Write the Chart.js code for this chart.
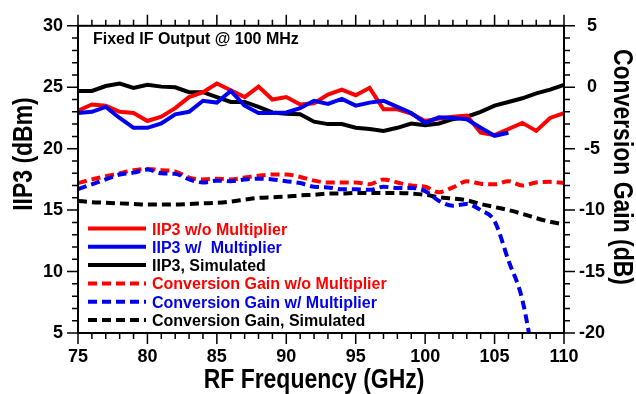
<!DOCTYPE html>
<html>
<head>
<meta charset="utf-8">
<script src="https://cdn.jsdelivr.net/npm/chart.js@4.4.0/dist/chart.umd.min.js"></script>
<style>
  html, body { margin: 0; padding: 0; background: #fff; }
  #box { width: 636px; height: 394px; }
</style>
</head>
<body>
<div id="box"><canvas id="iip3Chart"></canvas></div>
<script>
// RF frequency in GHz
const freq = [75, 76, 77, 78, 79, 80, 81, 82, 83, 84, 85, 86, 87, 88, 89, 90, 91, 92,
  93, 94, 95, 96, 97, 98, 99, 100, 101, 102, 103, 104, 105, 106, 107, 108, 109, 110];

// IIP3 (dBm)
const iip3Wo = [23.1, 23.6, 23.5, 23.0, 22.9, 22.25, 22.6, 23.3, 24.2, 24.6, 25.3, 24.75,
  24.2, 25.05, 24.0, 24.2, 23.6, 23.7, 24.4, 24.8, 24.35, 24.95, 23.2, 23.2, 22.85, 22.25,
  22.45, 22.6, 22.7, 21.3, 21.1, 21.6, 22.1, 21.45, 22.5, 22.9];
const iip3W = [22.9, 23.0, 23.4, 22.5, 21.7, 21.7, 22.05, 22.8, 23.0, 23.9, 23.75, 24.7,
  23.5, 22.9, 22.9, 22.95, 23.3, 23.9, 23.65, 24.05, 23.5, 23.75, 23.9, 23.4, 22.9, 22.1,
  22.55, 22.5, 22.4, 21.7, 21.05, 21.3];
const iip3Sim = [24.7, 24.7, 25.1, 25.3, 24.95, 25.2, 25.05, 25.0, 24.6, 24.6, 24.2, 23.8,
  23.8, 23.4, 22.95, 22.85, 22.8, 22.2, 22.0, 22.0, 21.7, 21.6, 21.45, 21.7, 22.05, 21.9,
  22.05, 22.4, 22.6, 23.0, 23.5, 23.8, 24.1, 24.5, 24.8, 25.2];

// Conversion gain (dB)
const cgWo = [-7.8, -7.5, -7.25, -7.0, -6.75, -6.65, -6.75, -6.85, -7.35, -7.5, -7.45, -7.5,
  -7.35, -7.2, -7.1, -7.1, -7.3, -7.6, -7.75, -7.75, -7.75, -7.9, -7.5, -7.75, -8.0, -8.1,
  -8.55, -8.15, -7.65, -7.85, -7.9, -7.65, -8.0, -7.75, -7.7, -7.8];
const cgW = [-8.3, -7.9, -7.5, -7.1, -6.95, -6.7, -7.0, -7.05, -7.5, -7.75, -7.6, -7.65,
  -7.5, -7.45, -7.5, -7.65, -7.8, -8.1, -8.15, -8.3, -8.3, -8.35, -8.1, -8.2, -8.2, -8.45,
  -9.25, -9.65, -9.5, -10.0, -10.9, -14.1, -17.3, -23.4];
const cgSim = [-9.25, -9.35, -9.4, -9.45, -9.5, -9.55, -9.55, -9.55, -9.5, -9.45, -9.4, -9.3,
  -9.15, -9.0, -8.95, -8.9, -8.8, -8.75, -8.65, -8.65, -8.6, -8.6, -8.6, -8.6, -8.65, -8.75,
  -8.95, -9.05, -9.2, -9.5, -9.75, -10.0, -10.3, -10.65, -10.95, -11.15];

const xTicks = [75, 80, 85, 90, 95, 100, 105, 110];
const yTicks = [5, 10, 15, 20, 25, 30];
const y2Ticks = [-20, -15, -10, -5, 0, 5];

const RED = '#ff0000';
const BLUE = '#0000f0';
const BLACK = '#000000';
const DASH = [9, 5];

function pts(ys) {
  return ys.map((y, i) => ({ x: freq[i], y: y }));
}

const legendItems = [
  { text: 'IIP3 w/o Multiplier', color: RED, dash: [] },
  { text: 'IIP3 w/  Multiplier', color: BLUE, dash: [] },
  { text: 'IIP3, Simulated', color: BLACK, dash: [] },
  { text: 'Conversion Gain w/o Multiplier', color: RED, dash: DASH },
  { text: 'Conversion Gain w/ Multiplier', color: BLUE, dash: DASH },
  { text: 'Conversion Gain, Simulated', color: BLACK, dash: DASH }
];

const BOLD = '"Liberation Sans", Arial, sans-serif';

// axis titles look like Arial Narrow: squeeze normal bold text
function narrowText(c, text, x, y, angle) {
  c.save();
  c.translate(x, y);
  c.rotate(angle);
  c.scale(0.82, 1);
  c.fillText(text, 0, 0);
  c.restore();
}

// frame, minor ticks, titles and legend
const decorations = {
  id: 'decorations',
  afterDraw(chart) {
    const c = chart.ctx;
    const a = chart.chartArea;
    const sx = chart.scales.x, sy = chart.scales.y, sy2 = chart.scales.y2;
    c.save();
    c.strokeStyle = BLACK;
    c.lineWidth = 2;
    c.strokeRect(a.left, a.top, a.right - a.left, a.bottom - a.top);

    c.lineWidth = 1.5;
    c.beginPath();
    for (let v = 75; v <= 110; v++) {
      const len = v % 5 === 0 ? 11 : 6;
      const px = sx.getPixelForValue(v);
      c.moveTo(px, a.bottom); c.lineTo(px, a.bottom + len);
      c.moveTo(px, a.top); c.lineTo(px, a.top - len);
    }
    for (let v = 5; v <= 30; v++) {
      const len = v % 5 === 0 ? 11 : 6;
      const py = sy.getPixelForValue(v);
      c.moveTo(a.left, py); c.lineTo(a.left - len, py);
    }
    for (let v = -20; v <= 5; v++) {
      const len = v % 5 === 0 ? 11 : 6;
      const py = sy2.getPixelForValue(v);
      c.moveTo(a.right, py); c.lineTo(a.right + len, py);
    }
    c.stroke();

    c.fillStyle = BLACK;
    c.font = 'bold 16px ' + BOLD;
    c.textAlign = 'left';
    c.textBaseline = 'alphabetic';
    c.fillText('Fixed IF Output @ 100 MHz', 93, 44);

    c.font = 'bold 28px ' + BOLD;
    c.textAlign = 'center';
    narrowText(c, 'RF Frequency (GHz)', 314, 388, 0);
    narrowText(c, 'IIP3 (dBm)', 32, 154, -Math.PI / 2);
    narrowText(c, 'Conversion Gain (dB)', 614, 167, Math.PI / 2);

    // legend
    c.font = 'bold 16px ' + BOLD;
    c.textAlign = 'left';
    legendItems.forEach((it, i) => {
      const y = 228.5 + i * 18.3;
      c.strokeStyle = it.color;
      c.lineWidth = 4;
      c.setLineDash(it.dash);
      c.beginPath();
      c.moveTo(88, y); c.lineTo(146, y);
      c.stroke();
      c.setLineDash([]);
      c.fillStyle = it.color;
      c.fillText(it.text, 152, y + 6);
    });
    c.restore();
  }
};

function solid(label, data, color) {
  return {
    label: label, data: data, yAxisID: 'y',
    borderColor: color, backgroundColor: color,
    borderWidth: 4, pointRadius: 0, tension: 0, fill: false
  };
}
function dashed(label, data, color) {
  return {
    label: label, data: data, yAxisID: 'y2',
    borderColor: color, backgroundColor: color, borderDash: DASH,
    borderWidth: 4, pointRadius: 0, cubicInterpolationMode: 'monotone', fill: false, clip: 0
  };
}

const ctx = document.getElementById('iip3Chart').getContext('2d');
const iip3Chart = new Chart(ctx, {
  type: 'line',
  data: {
    datasets: [
      dashed('Conversion Gain w/ Multiplier', pts(cgW), BLUE),
      dashed('Conversion Gain w/o Multiplier', pts(cgWo), RED),
      dashed('Conversion Gain, Simulated', pts(cgSim), BLACK),
      solid('IIP3 w/  Multiplier', pts(iip3W), BLUE),
      solid('IIP3 w/o Multiplier', pts(iip3Wo), RED),
      solid('IIP3, Simulated', pts(iip3Sim), BLACK)
    ]
  },
  options: {
    responsive: true,
    maintainAspectRatio: false,
    animation: false,
    layout: { padding: { top: 17, left: 0, right: 0, bottom: 0 } },
    plugins: {
      legend: { display: false },
      tooltip: { enabled: false }
    },
    scales: {
      x: {
        type: 'linear', min: 75, max: 110,
        afterBuildTicks: (s) => { s.ticks = xTicks.map(v => ({ value: v })); },
        afterFit: (s) => { s.height = 61; },
        grid: { display: false, drawTicks: false },
        border: { display: false },
        ticks: { color: BLACK, padding: 13, maxRotation: 0, font: { family: BOLD, size: 18, weight: 'bold' } }
      },
      y: {
        position: 'left', min: 5, max: 30,
        afterBuildTicks: (s) => { s.ticks = yTicks.map(v => ({ value: v })); },
        afterFit: (s) => { s.width = 78; },
        grid: { display: false, drawTicks: false },
        border: { display: false },
        ticks: { color: BLACK, padding: 15, font: { family: BOLD, size: 18, weight: 'bold' } }
      },
      y2: {
        position: 'right', min: -20, max: 5,
        afterBuildTicks: (s) => { s.ticks = y2Ticks.map(v => ({ value: v })); },
        afterFit: (s) => { s.width = 72; },
        grid: { display: false, drawTicks: false },
        border: { display: false },
        ticks: { color: BLACK, padding: 15, crossAlign: 'center', font: { family: BOLD, size: 18, weight: 'bold' } }
      }
    }
  },
  plugins: [decorations]
});
</script>
</body>
</html>
